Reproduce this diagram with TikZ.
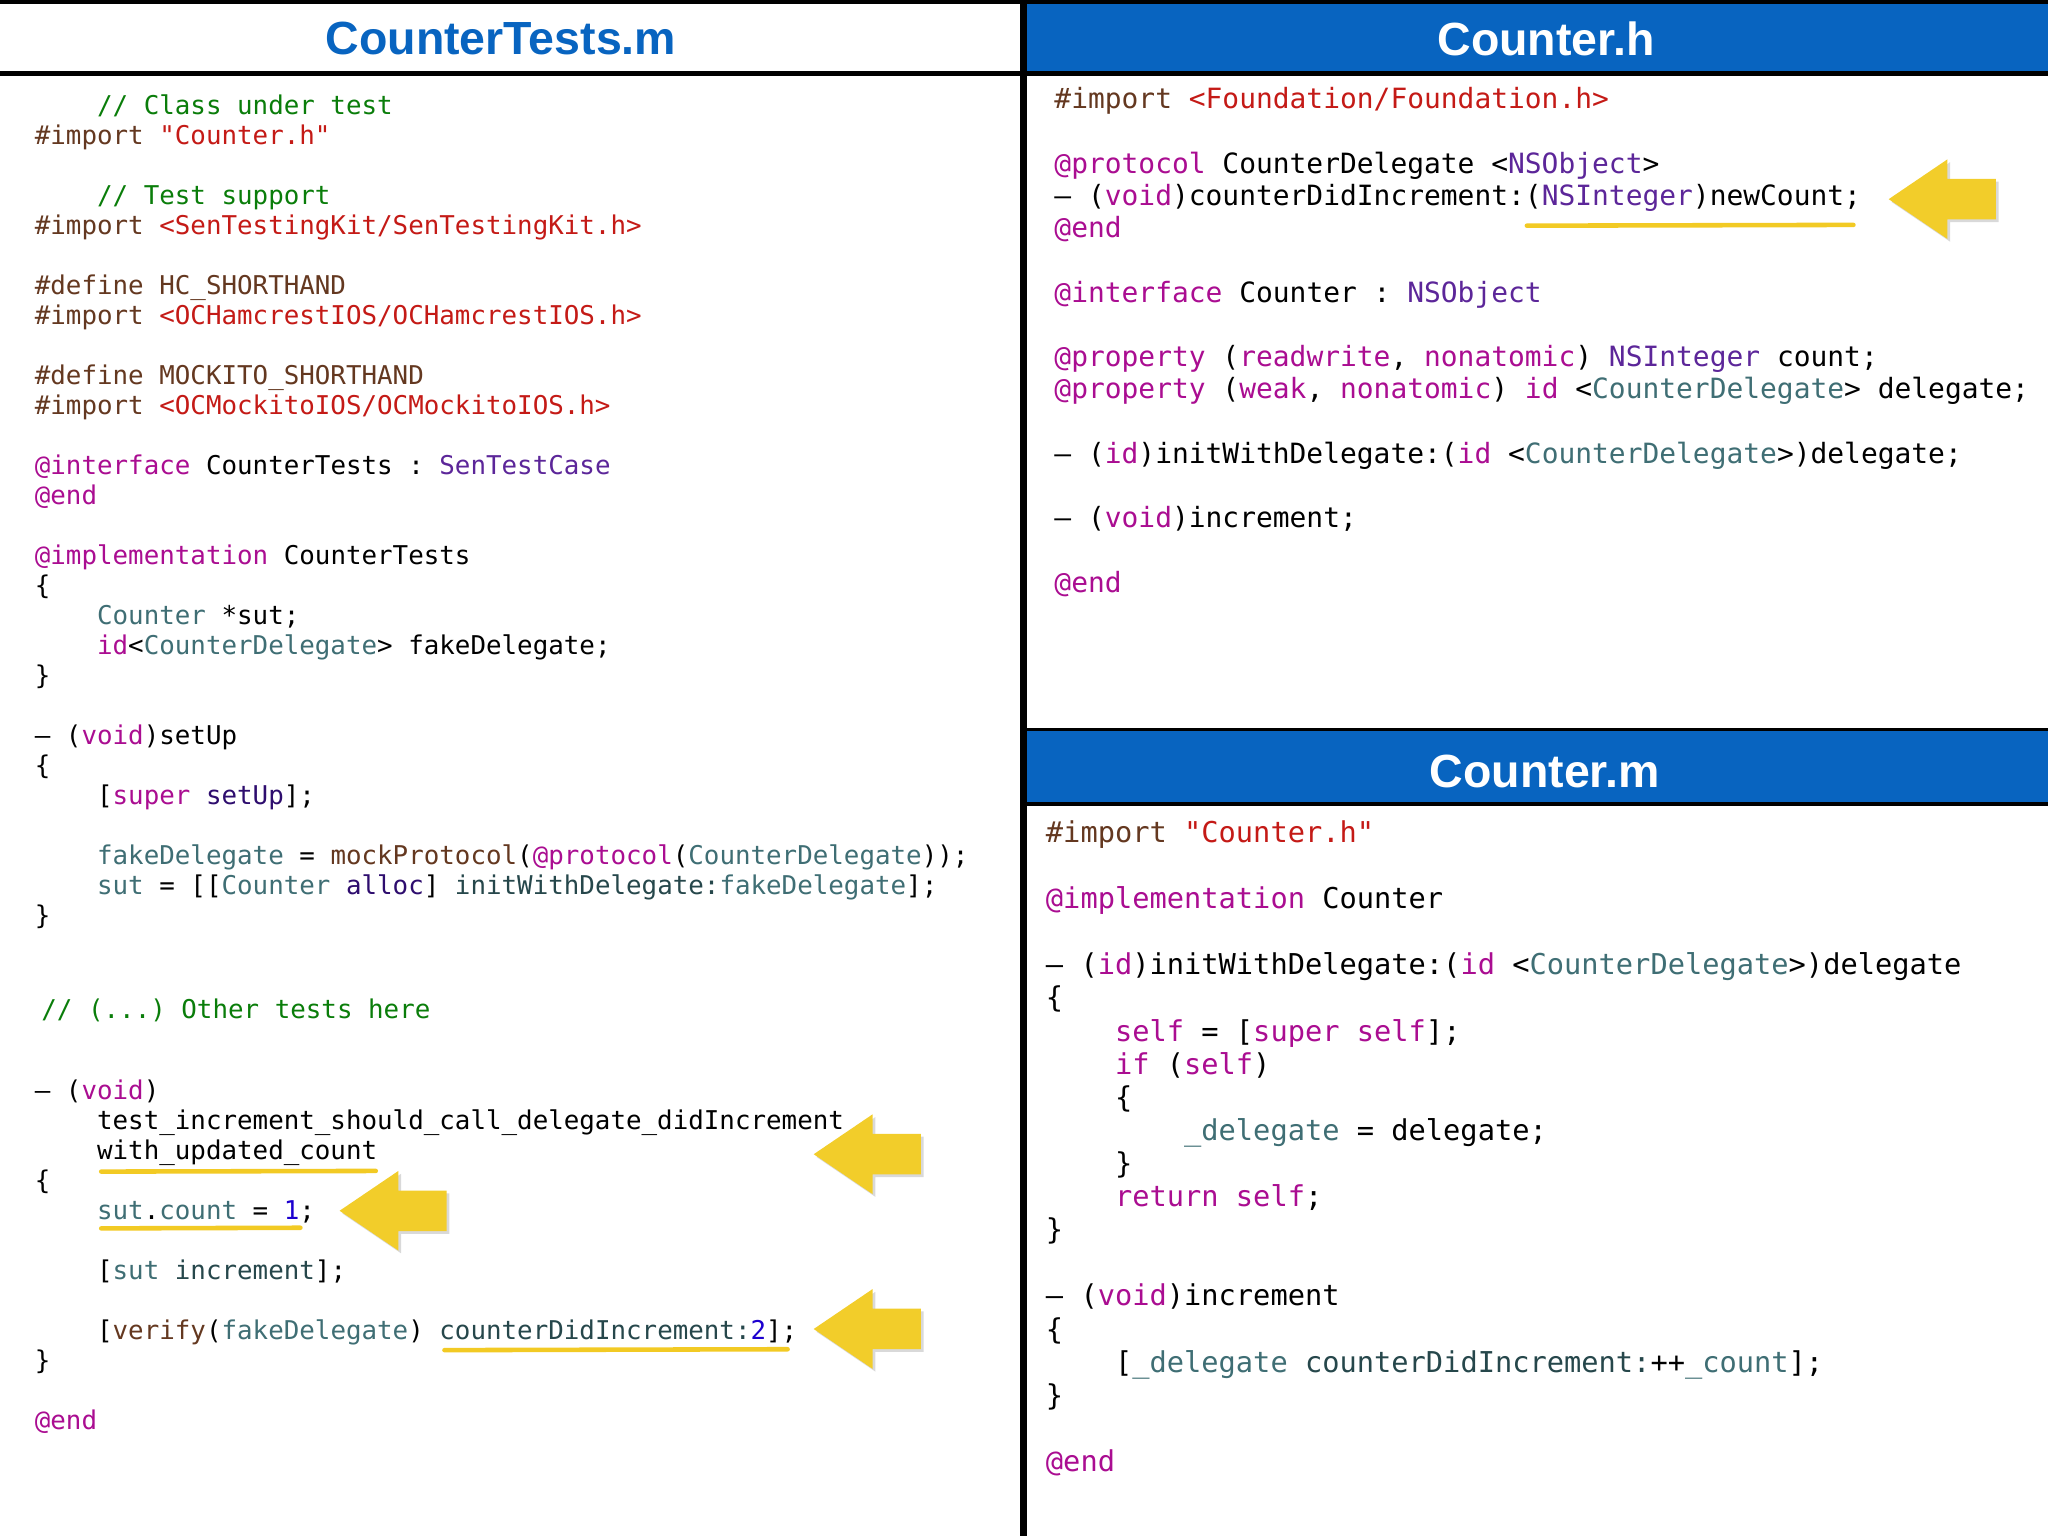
\documentclass[tikz,border=0pt]{standalone}
\usepackage{fontspec}
\setmainfont{Liberation Sans}
\newfontfamily\codefont{DejaVu Sans Mono}
\usetikzlibrary{shadows}

\definecolor{titleblue}{RGB}{8,100,192}
\definecolor{kwmag}{RGB}{170,13,145}
\definecolor{ppbrown}{RGB}{100,56,32}
\definecolor{strred}{RGB}{196,26,22}
\definecolor{clspurple}{RGB}{92,38,153}
\definecolor{prjteal}{RGB}{63,110,116}
\definecolor{mthteal}{RGB}{38,71,75}
\definecolor{syspurple}{RGB}{46,13,110}
\definecolor{numblue}{RGB}{28,0,207}
\definecolor{comgreen}{RGB}{10,125,10}
\definecolor{markyellow}{RGB}{242,202,36}
\definecolor{arrowyellow}{RGB}{242,205,42}

\newcommand\ckw[1]{\textcolor{kwmag}{#1}}
\newcommand\cpp[1]{\textcolor{ppbrown}{#1}}
\newcommand\cstr[1]{\textcolor{strred}{#1}}
\newcommand\ccls[1]{\textcolor{clspurple}{#1}}
\newcommand\cprj[1]{\textcolor{prjteal}{#1}}
\newcommand\cmth[1]{\textcolor{mthteal}{#1}}
\newcommand\csys[1]{\textcolor{syspurple}{#1}}
\newcommand\cnum[1]{\textcolor{numblue}{#1}}
\newcommand\ccom[1]{\textcolor{comgreen}{#1}}

\tikzset{
  headtitle/.style={anchor=base, inner sep=0pt, font=\fontsize{10.13}{12}\selectfont\bfseries},
  testcode/.style={anchor=base west, inner sep=0pt, font=\codefont\fontsize{5.63}{7}\selectfont},
  hcode/.style={anchor=base west, inner sep=0pt, font=\codefont\fontsize{6.08}{7}\selectfont},
  mcode/.style={anchor=base west, inner sep=0pt, font=\codefont\fontsize{6.25}{7}\selectfont},
  marker/.style={draw=markyellow, line width=0.035cm, line cap=round},
  yarrow/.style={fill=arrowyellow, drop shadow={shadow xshift=0.6pt, shadow yshift=-0.6pt, opacity=0.3}}
}
\frenchspacing

\begin{document}
\begin{tikzpicture}
\useasboundingbox (0,0) rectangle (15.68,-11.76);
% panel headers
\fill[titleblue] (7.86,0) rectangle (15.68,-0.56);
\fill[titleblue] (7.86,-5.60) rectangle (15.68,-6.145);
\draw[line width=1pt] (0,-0.01) -- (15.68,-0.01);
\draw[line width=1pt] (0,-0.565) -- (15.68,-0.565);
\draw[line width=0.8pt] (7.86,-5.585) -- (15.68,-5.585);
\draw[line width=1pt] (7.86,-6.155) -- (15.68,-6.155);
\draw[line width=1.4pt] (7.835,0) -- (7.835,-11.76);
\node[headtitle, text=titleblue] (hdtests) at (3.835,-0.421) {CounterTests.m};
\node[headtitle, text=white] (hdh) at (11.837,-0.424) {Counter.h};
\node[headtitle, text=white] (hdm) at (11.827,-6.03) {Counter.m};

% CounterTests.m
\foreach \row/\txt in {
 0/{~~~~\ccom{// Class under test}},
 1/{\cpp{\#import} \cstr{"Counter.h"}},
 3/{~~~~\ccom{// Test support}},
 4/{\cpp{\#import} \cstr{<SenTestingKit/SenTestingKit.h>}},
 6/{\cpp{\#define HC\_SHORTHAND}},
 7/{\cpp{\#import} \cstr{<OCHamcrestIOS/OCHamcrestIOS.h>}},
 9/{\cpp{\#define MOCKITO\_SHORTHAND}},
 10/{\cpp{\#import} \cstr{<OCMockitoIOS/OCMockitoIOS.h>}},
 12/{\ckw{@interface} CounterTests : \ccls{SenTestCase}},
 13/{\ckw{@end}},
 15/{\ckw{@implementation} CounterTests},
 16/{\{},
 17/{~~~~\cprj{Counter} *sut;},
 18/{~~~~\ckw{id}<\cprj{CounterDelegate}> fakeDelegate;},
 19/{\}},
 21/{– (\ckw{void})setUp},
 22/{\{},
 23/{~~~~[\ckw{super} \csys{setUp}];},
 25/{~~~~\cprj{fakeDelegate} = \cpp{mockProtocol}(\ckw{@protocol}(\cprj{CounterDelegate}));},
 26/{~~~~\cprj{sut} = [[\cprj{Counter} \csys{alloc}] \cmth{initWithDelegate:}\cprj{fakeDelegate}];},
 27/{\}}}
\node[testcode] (tests\row) at (0.26,{-0.88-0.2295*\row}) {\txt};
\node[testcode] (othertests) at (0.31,-7.797) {\ccom{// (...) Other tests here}};
\foreach \row/\txt in {
 0/{– (\ckw{void})},
 1/{~~~~test\_increment\_should\_call\_delegate\_didIncrement},
 2/{~~~~with\_updated\_count},
 3/{\{},
 4/{~~~~\cprj{sut}.\cprj{count} = \cnum{1};},
 6/{~~~~[\cprj{sut} \cmth{increment}];},
 8/{~~~~[\cpp{verify}(\cprj{fakeDelegate}) \cmth{counterDidIncrement:}\cnum{2}];},
 9/{\}},
 11/{\ckw{@end}}}
\node[testcode] (case\row) at (0.26,{-8.417-0.2295*\row}) {\txt};

% Counter.h
\foreach \row/\txt in {
 0/{\cpp{\#import} \cstr{<Foundation/Foundation.h>}},
 2/{\ckw{@protocol} CounterDelegate <\ccls{NSObject}>},
 3/{– (\ckw{void})counterDidIncrement:(\ccls{NSInteger})newCount;},
 4/{\ckw{@end}},
 6/{\ckw{@interface} Counter : \ccls{NSObject}},
 8/{\ckw{@property} (\ckw{readwrite}, \ckw{nonatomic}) \ccls{NSInteger} count;},
 9/{\ckw{@property} (\ckw{weak}, \ckw{nonatomic}) \ckw{id} <\cprj{CounterDelegate}> delegate;},
 11/{– (\ckw{id})initWithDelegate:(\ckw{id} <\cprj{CounterDelegate}>)delegate;},
 13/{– (\ckw{void})increment;},
 15/{\ckw{@end}}}
\node[hcode] (header\row) at (8.066,{-0.832-0.2468*\row}) {\txt};

% Counter.m
\foreach \row/\txt in {
 0/{\cpp{\#import} \cstr{"Counter.h"}},
 2/{\ckw{@implementation} Counter},
 4/{– (\ckw{id})initWithDelegate:(\ckw{id} <\cprj{CounterDelegate}>)delegate},
 5/{\{},
 6/{~~~~\ckw{self} = [\ckw{super} \ckw{self}];},
 7/{~~~~\ckw{if} (\ckw{self})},
 8/{~~~~\{},
 9/{~~~~~~~~\cprj{\_delegate} = delegate;},
 10/{~~~~\}},
 11/{~~~~\ckw{return} \ckw{self};},
 12/{\}},
 14/{– (\ckw{void})increment},
 15/{\{},
 16/{~~~~[\cprj{\_delegate} \cmth{counterDidIncrement:}++\cprj{\_count}];},
 17/{\}},
 19/{\ckw{@end}}}
\node[mcode] (impl\row) at (8.001,{-6.45-0.2535*\row}) {\txt};

% highlights
\draw[marker] (11.69,-1.728) -- (14.19,-1.722);
\draw[marker] (0.775,-8.97) -- (2.877,-8.965);
\draw[marker] (0.775,-9.405) -- (2.30,-9.40);
\draw[marker] (3.403,-10.337) -- (6.03,-10.33);
\foreach \tx/\ty in {14.46/-1.525, 6.23/-8.837, 2.60/-9.27, 6.23/-10.175}
\fill[yarrow] (\tx,\ty) -- ++(0.45,0.305) -- ++(0,-0.15) -- ++(0.37,0) -- ++(0,-0.31) -- ++(-0.37,0) -- ++(0,-0.15) -- cycle;
\end{tikzpicture}
\end{document}
